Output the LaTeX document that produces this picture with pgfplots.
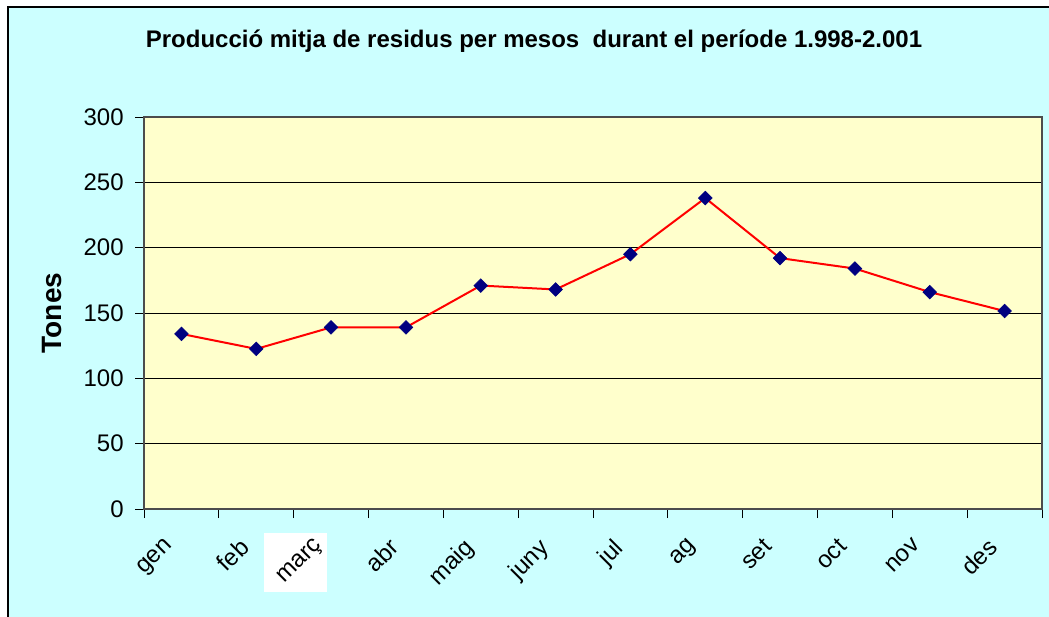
\documentclass[border=0pt]{standalone}
\usepackage{fontspec}
\setmainfont{Liberation Sans}
\usepackage{pgfplots}
\pgfplotsset{compat=1.18}
\definecolor{bgcyan}{HTML}{CCFFFF}
\definecolor{plotyellow}{HTML}{FFFFCC}
\definecolor{navy}{HTML}{000080}
\begin{document}
\begin{tikzpicture}
% page and chart area
\fill[white] (-108pt,-81pt) rectangle (678.75pt,381.75pt);
\fill[bgcyan] (-102pt,-81pt) rectangle (678.75pt,376.5pt);
\draw[black, line width=1.2pt] (-102pt,-81pt) -- (-102pt,376.5pt) -- (678.75pt,376.5pt);
% title
\node[font=\bfseries\fontsize{18}{21}\selectfont] at (292.5pt,351pt) {Producció mitja de residus per mesos~ durant el període 1.998-2.001};
% y label
\node[font=\bfseries\fontsize{21}{24}\selectfont, rotate=90] at (-69pt,147pt) {Tones};
% white patch behind the third month label
\fill[white] (90pt,-62pt) rectangle (137.25pt,-18pt);
\begin{axis}[
  at={(0pt,0pt)}, anchor=south west,
  scale only axis, width=673.5pt, height=294pt,
  xmin=-0.5, xmax=11.5, ymin=0, ymax=300,
  ytick={0,50,...,300},
  ymajorgrids, grid style={black, line width=0.6pt},
  xtick={-0.5,0.5,...,11.5}, xticklabels={},
  extra x ticks={0,1,2,3,4,5,6,7,8,9,10,11},
  extra x tick labels={gen,feb,març,abr,maig,juny,jul,ag,set,oct,nov,des},
  extra x tick style={major tick length=0pt, xticklabel shift=16pt,
     tick label style={xshift=-13.5pt, rotate=45, anchor=north east}},
  tick pos=left,
  tick align=outside, major tick length=6.75pt,
  tick style={black, line width=0.6pt},
  axis background/.style={fill=plotyellow},
  axis line style={black!70, line width=0.8pt},
  tick label style={font=\fontsize{18}{20}\selectfont},
  yticklabel style={xshift=-5pt},
  /pgf/number format/assume math mode=true,
  clip=false,
]
\addplot[red, line width=1.5pt, mark=square*, mark size=3.6pt,
  mark options={rotate=45, fill=navy, draw=navy, line width=0.5pt}]
  coordinates {(0,134) (1,122.5) (2,139) (3,139) (4,171) (5,168) (6,195) (7,238) (8,192) (9,184) (10,166) (11,151.5)};
\end{axis}
\pgfresetboundingbox
\useasboundingbox (-108pt,-81pt) rectangle (678.75pt,381.75pt);
\end{tikzpicture}
\end{document}
